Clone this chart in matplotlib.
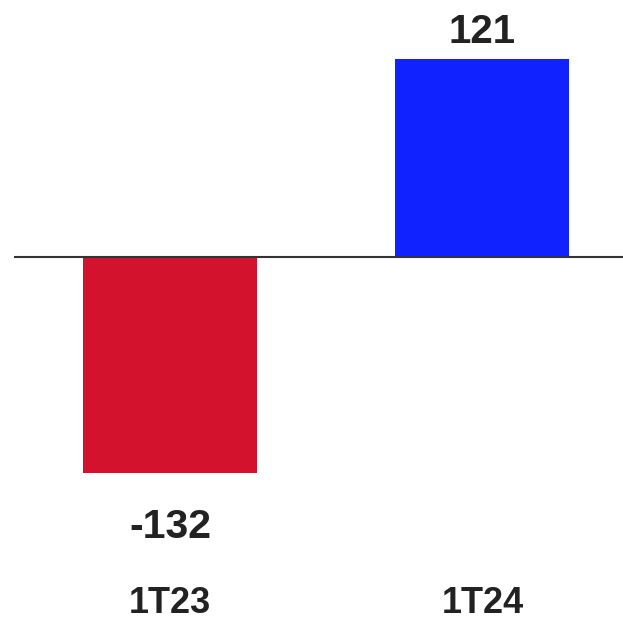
import matplotlib
matplotlib.use("Agg")
import matplotlib.pyplot as plt

categories = ["1T23", "1T24"]
values = [-132, 121]
colors = ["#D3122E", "#0F22FF"]
labels = ["-132", "121"]

plt.rcParams['font.family'] = ['Liberation Sans', 'DejaVu Sans']

fig = plt.figure(figsize=(6.23, 6.21), dpi=100)
ax = fig.add_axes([14/623, 0, 1 - 14/623, 1])
x = list(range(len(categories)))
ax.bar(x, values, width=0.557, color=colors, zorder=2)
ax.axhline(0, color="#333333", linewidth=1.5, zorder=3)
ax.set_xlim(-0.499, 1.45)
ax.set_ylim(-222.5, 157.1)
ax.axis("off")

for xi, v, lab in zip(x, values, labels):
    if v >= 0:
        ax.annotate(lab, (xi, v), xytext=(0, 16), textcoords="offset pixels",
                    ha="center", va="baseline", fontsize=29, fontweight="bold", color="#222222")
    else:
        ax.annotate(lab, (xi, v), xytext=(0, -65), textcoords="offset pixels",
                    ha="center", va="baseline", fontsize=29.5, fontweight="bold", color="#222222")

for xi, c in zip(x, categories):
    ax.text(xi, 0.0135, c, transform=ax.get_xaxis_transform(), ha="center", va="baseline",
            fontsize=26, fontweight="bold", color="#222222")

fig.savefig("out.png", dpi=100)
